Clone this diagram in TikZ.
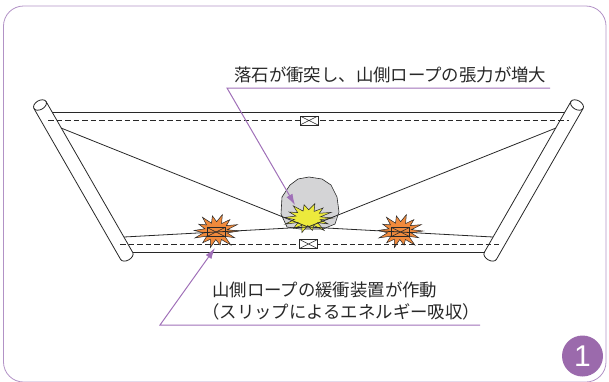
\documentclass[tikz,border=0pt]{standalone}
\usepackage{fontspec}
\setmainfont{Noto Sans CJK JP}
\newfontfamily\numfont{Liberation Sans}
\usetikzlibrary{arrows.meta}

\definecolor{framepurple}{RGB}{178,146,198}
\definecolor{leaderpurple}{RGB}{160,112,184}
\definecolor{badgepurple}{RGB}{155,106,172}
\definecolor{rockgray}{RGB}{212,212,214}
\definecolor{burstorange}{RGB}{240,138,60}
\definecolor{burstyellow}{RGB}{236,234,60}
\definecolor{inkgray}{RGB}{40,40,40}

\tikzset{
  rope/.style={draw=inkgray, line width=0.8pt},
  guide/.style={rope, dash pattern=on 5.5pt off 3pt},
  post/.style={draw=inkgray, line width=0.8pt},
  device/.style={draw=inkgray, line width=0.6pt, minimum width=18pt, minimum height=9pt, inner sep=0pt,
    path picture={\draw[inkgray, line width=0.5pt]
      (path picture bounding box.north west) -- (path picture bounding box.south east)
      (path picture bounding box.south west) -- (path picture bounding box.north east);}},
  leader/.style={draw=leaderpurple, line width=1pt},
  notetext/.style={text=inkgray, font=\fontsize{17.4}{22}\selectfont, inner sep=0pt},
  burst/.pic={
    \filldraw[pic actions, draw=inkgray, line width=0.5pt] (0:1)
      \foreach \a/\r in {13/0.5, 26/0.9, 39/0.5, 52/1.05, 65/0.55, 78/0.85, 91/0.5,
        104/1.0, 117/0.55, 130/0.9, 143/0.5, 156/1.0, 169/0.55, 182/0.95, 195/0.5,
        208/0.85, 221/0.55, 234/1.0, 247/0.5, 260/0.9, 273/0.55, 286/1.0, 299/0.5,
        312/0.9, 325/0.55, 338/1.0, 351/0.5}
      { -- (\a:\r) } -- cycle;
  }
}

\begin{document}
\begin{tikzpicture}[x=1pt, y=-1pt]
\useasboundingbox (0,0) rectangle (609,381);
\draw[framepurple, line width=0.8pt, rounded corners=20pt] (3.5,6) rectangle (606,382);

% posts: a tube with an open top and a rounded foot
\foreach \px/\py/\r in {40/105/-60.13, 577/105/-119.87} {
  \begin{scope}[shift={(\px,\py)}, rotate=\r]
    \draw[post] (0,0) ellipse [x radius=4.5, y radius=7];
    \draw[post] (0,7) -- (174,7) arc [start angle=90, end angle=-90, x radius=4.5, y radius=7] -- (0,-7);
  \end{scope}
}

% rope ends on the posts
\coordinate (topl) at (52,112);   \coordinate (topr) at (565,112);
\coordinate (gtopl) at (48,120);  \coordinate (gtopr) at (569,120);
\coordinate (diagl) at (61,128);  \coordinate (diagr) at (556,128);
\coordinate (lowl) at (124,237);  \coordinate (lowr) at (493,237);
\coordinate (botl) at (133,252);  \coordinate (botr) at (485,252);
\coordinate (gbotl) at (120,244); \coordinate (gbotr) at (499,244);
\coordinate (hub) at (308,227);

% rock and impact
\filldraw[fill=rockgray, draw=inkgray, line width=0.6pt] (309,177) -- (322,179) -- (331,185) -- (337,197)
  -- (339,212) -- (335,224) -- (323,229) -- (300,229) -- (287,227) -- (281,214) -- (282,197)
  -- (290,185) -- (298,179) -- cycle;
\pic[fill=burstyellow, xscale=25, yscale=15] at (308,218) {burst};
\pic[fill=burstorange, xscale=23, yscale=17] at (216,231) {burst};
\pic[fill=burstorange, xscale=23, yscale=17] at (400,231) {burst};

% ropes
\draw[rope] (topl) -- (topr);
\draw[guide] (gtopl) -- (gtopr);
\node[device, fill=white] (devtop) at (309,120.5) {};
\draw[rope] (diagl) -- (hub) -- (diagr);
\draw[rope] (lowl) -- node[device, pos=0.5] (slipl) {} (hub) -- node[device, pos=0.5] (slipr) {} (lowr);
\draw[rope] (botl) -- (botr);
\draw[guide] (gbotl) -- (gbotr);
\node[device, fill=white] (devbot) at (308.5,244) {};

% labels and leaders
\node[notetext, anchor=base west] (lbltension) at (234,81.5) {落石が衝突し、山側ロープの張力が増大};
\coordinate (tensionl) at (227,88);  \coordinate (tensionr) at (550,88);
\coordinate (rockpt) at (295,205);
\draw[leader, -{Latex[length=11pt, width=7pt]}] (tensionr) -- (tensionl) -- (rockpt);

\node[notetext, anchor=base west, align=left] (lblslip) at (212,318)
  {山側ロープの緩衝装置が作動\\\hspace*{-0.57em}（スリップによるエネルギー吸収）};
\coordinate (slipend) at (480,325);  \coordinate (slipbend) at (160,325);
\coordinate (slippt) at (215,248);
\draw[leader, -{Latex[length=11pt, width=7pt]}] (slipend) -- (slipbend) -- (slippt);

\node[circle, fill=badgepurple, minimum size=41pt, inner sep=0pt, text=white,
  font=\numfont\fontsize{30}{30}\selectfont] (badge) at (582.5,356) {1};
\end{tikzpicture}
\end{document}
